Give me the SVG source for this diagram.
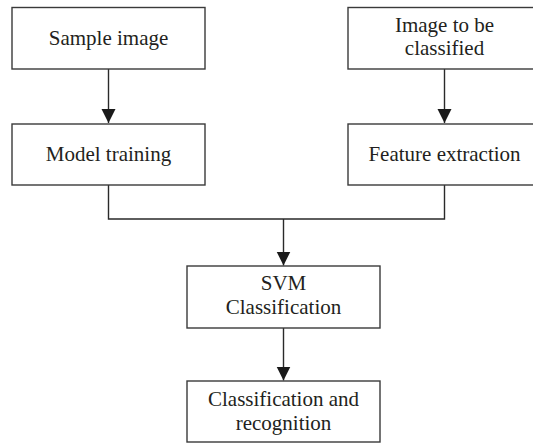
<svg xmlns="http://www.w3.org/2000/svg" width="533" height="444" viewBox="0 0 533 444">
  <style>
    .box { fill: #ffffff; stroke: #3a3a3a; stroke-width: 1.4; }
    .label { font-family: "Liberation Serif", "Times New Roman", serif; font-size: 21px; fill: #231f20; text-anchor: middle; }
    .wire { fill: none; stroke: #2a2a2a; stroke-width: 1.4; }
  </style>
  <defs>
    <marker id="arrow" markerUnits="userSpaceOnUse" markerWidth="14" markerHeight="16" refX="14" refY="7" orient="auto">
      <path d="M0,0 L14,7 L0,14 Z" fill="#1a1a1a"/>
    </marker>
  </defs>
  <rect width="533" height="444" fill="#ffffff"/>

  <g id="connectors">
    <line class="wire" x1="108.5" y1="69" x2="108.5" y2="123" marker-end="url(#arrow)"/>
    <line class="wire" x1="444.5" y1="69" x2="444.5" y2="123" marker-end="url(#arrow)"/>
    <polyline class="wire" points="108.5,185 108.5,219 444.5,219 444.5,185"/>
    <line class="wire" x1="283.5" y1="219" x2="283.5" y2="265.5" marker-end="url(#arrow)"/>
    <line class="wire" x1="283.5" y1="328" x2="283.5" y2="380.5" marker-end="url(#arrow)"/>
  </g>

  <g id="sample-image">
    <rect class="box" x="12" y="7.5" width="193" height="61.5"/>
    <text class="label" x="108.5" y="44.5">Sample image</text>
  </g>

  <g id="image-to-classify">
    <rect class="box" x="348" y="7.5" width="193" height="61.5"/>
    <text class="label" x="444.5" y="32">Image to be</text>
    <text class="label" x="444.5" y="55">classified</text>
  </g>

  <g id="model-training">
    <rect class="box" x="12" y="124" width="193" height="61"/>
    <text class="label" x="108.5" y="161">Model training</text>
  </g>

  <g id="feature-extraction">
    <rect class="box" x="348" y="124" width="193" height="61"/>
    <text class="label" x="444.5" y="161">Feature extraction</text>
  </g>

  <g id="svm-classification">
    <rect class="box" x="187" y="266" width="193" height="62"/>
    <text class="label" x="283.5" y="290">SVM</text>
    <text class="label" x="283.5" y="314">Classification</text>
  </g>

  <g id="classification-recognition">
    <rect class="box" x="187" y="381" width="193" height="61"/>
    <text class="label" x="283.5" y="406">Classification and</text>
    <text class="label" x="283.5" y="430">recognition</text>
  </g>
</svg>
